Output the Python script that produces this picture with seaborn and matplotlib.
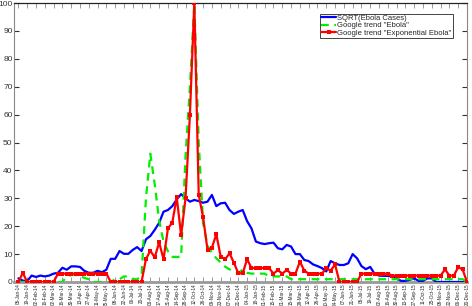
import numpy as np
import pandas as pd
import matplotlib
matplotlib.use("Agg")
import matplotlib.pyplot as plt
import seaborn as sns

weeks = pd.date_range("2014-01-05", periods=103, freq="7D")

sqrt_cases = [1.3, 0.5, 0.3, 2.3, 1.8, 2.3, 2.0, 2.3, 3.0, 3.3,
              5.1, 4.4, 5.6, 5.6, 5.4, 4.0, 3.3, 3.3, 4.0, 3.5,
              4.4, 8.3, 8.3, 11.1, 10.1, 10.1, 11.5, 12.5, 11.1, 15.3,
              16.5, 18.7, 21.2, 25.2, 25.8, 27.2, 29.6, 31.5, 30.0, 28.8,
              29.4, 29.0, 28.4, 28.8, 31.2, 27.2, 28.2, 28.4, 25.8, 24.4,
              25.2, 25.8, 21.8, 19.2, 14.5, 13.9, 13.6, 13.9, 14.1, 12.1,
              11.7, 13.3, 12.7, 10.0, 10.0, 7.9, 7.5, 6.3, 5.7, 5.0,
              3.8, 7.5, 6.7, 6.1, 6.1, 6.7, 10.0, 8.5, 5.7, 4.6,
              5.4, 2.9, 2.3, 2.2, 2.2, 2.0, 1.3, 0.4, 0.4, 0.8,
              1.3, 0.4, 0.4, 1.3, 1.3, 0.0, 0.0, 0.0, 0.0, 0.0,
              0.0, 0.0, 0.0]

trend_ebola = [0, 0, 0, 0, 0, 0, 0, 0, 0, 0,
               0, 2, 2.5, 2.5, 2, 1.5, 1, 0, 0, 0,
               0, 0, 1, 1, 2, 2, 1, 1, 2, 30,
               46, 35, 22, 14.5, 11, 9, 9, 9, 45, 70,
               100, 50, 21, 13, 10.5, 8.5, 7, 5.5, 4.5, 4,
               3.2, 4.5, 3.3, 3, 3, 3, 3, 2, 2, 2,
               2, 2, 1, 1, 1, 1, 1, 1, 1, 1,
               1, 1, 1, 1, 1, 1, 1, 1, 1, 1,
               1, 1, 1, 1, 1, 1, 1, 1, 1, 1,
               1, 1, 1, 1, 1, 1, 1, 1, 1, 1,
               1, 1, 0]

trend_exp = [0, 3.3, 0, 0, 0, 0, 0, 0, 0, 3,
             3, 3, 3, 3, 3, 3, 3, 3, 3, 3,
             3, 0, 0, 0, 0, 0, 0, 0, 0, 8.2,
             11.2, 8.8, 14.2, 8.2, 19.2, 21.3, 30.4, 16.8, 30, 60,
             100, 31.2, 23.2, 11.5, 12.3, 17.1, 9.1, 8.1, 10.3, 6.9,
             3.1, 3.1, 8.2, 5, 5, 5, 5, 5, 3, 4.3,
             3, 4.3, 3, 3, 7.3, 4.1, 3, 3, 3, 3,
             4.9, 4.1, 6.3, 0, 0, 0, 0, 0, 3, 3,
             3, 3, 3, 3, 3, 2.3, 2.3, 2.3, 2.3, 2.3,
             2.3, 2.3, 2.3, 2.3, 2.3, 2.3, 2.3, 4.5, 2.3, 2.3,
             5.3, 4.5, 0]

tick_labels = ["05-Jan-14", "19-Jan-14", "02-Feb-14", "16-Feb-14", "02-Mar-14", "16-Mar-14",
               "30-Mar-14", "13-Apr-14", "27-Apr-14", "11-May-14", "25-May-14", "08-Jun-14",
               "22-Jun-14", "06-Jul-14", "20-Jul-14", "03-Aug-14", "17-Aug-14", "31-Aug-14",
               "14-Sep-14", "28-Sep-14", "12-Oct-14", "26-Oct-14", "09-Nov-14", "23-Nov-14",
               "07-Dec-14", "21-Dec-14", "04-Jan-15", "18-Jan-15", "01-Feb-15", "15-Feb-15",
               "01-Mar-15", "15-Mar-15", "29-Mar-15", "12-Apr-15", "26-Apr-15", "10-May-15",
               "24-May-15", "07-Jun-15", "21-Jun-15", "05-Jul-15", "19-Jul-15", "02-Aug-15",
               "16-Aug-15", "30-Aug-15", "13-Sep-15", "27-Sep-15", "11-Oct-15", "25-Oct-15",
               "08-Nov-15", "22-Nov-15", "06-Dec-15", "20-Dec-15"]

series_names = ["SQRT(Ebola Cases)", 'Google trend "Ebola"', 'Google trend "Exponential Ebola"']

sns.set_style("white")
plt.rcParams["font.family"] = ["Liberation Sans", "DejaVu Sans"]

fig = plt.figure(figsize=(4.72, 3.06), dpi=100)
ax = fig.add_axes([14 / 472, 1 - 282 / 306, 453 / 472, 279 / 306])

df = pd.DataFrame({"week": weeks, "blue": sqrt_cases, "green": trend_ebola, "red": trend_exp})

sns.lineplot(data=df, x="week", y="blue", ax=ax, color="#0000ff", lw=1.6,
             label=series_names[0], zorder=3)
sns.lineplot(data=df, x="week", y="green", ax=ax, color="#00ee00", lw=1.6,
             linestyle=(0, (3.5, 2.5)), label=series_names[1], zorder=3)
sns.lineplot(data=df, x="week", y="red", ax=ax, color="#ff0000", lw=1.6, marker="s",
             markersize=3.4, markeredgewidth=0, label=series_names[2], zorder=4)

ax.set_xlim(weeks[0] - pd.Timedelta(days=7), weeks[-1])
ax.set_ylim(0, 100)
ax.set_yticks(range(0, 101, 10))
ax.set_xticks(weeks[::2])
ax.set_xticklabels(tick_labels, rotation=90, fontsize=3.3, color="#222222")
ax.set_xlabel("")
ax.set_ylabel("")

ax.tick_params(axis="y", direction="in", length=3.5, width=0.8, labelsize=6,
               colors="#333333", left=True, right=True, pad=1)
ax.tick_params(axis="x", direction="in", length=3.5, width=0.6, color="#888888",
               top=True, bottom=True, pad=1.2)

for side in ["left", "right"]:
    ax.spines[side].set_color("#888888")
    ax.spines[side].set_linewidth(0.8)
ax.spines["top"].set_color("#222222")
ax.spines["top"].set_linewidth(0.9)
ax.spines["bottom"].set_color("#999999")
ax.spines["bottom"].set_linewidth(2.0)

leg = ax.legend(loc="upper right", bbox_to_anchor=(0.968, 0.962), fontsize=5.5,
                frameon=True, fancybox=False, edgecolor="#444444", framealpha=1,
                borderpad=0.15, labelspacing=0.0, handlelength=2.0, handletextpad=0.1,
                borderaxespad=0)
leg.get_frame().set_linewidth(0.7)

fig.savefig("out.png", dpi=100)
